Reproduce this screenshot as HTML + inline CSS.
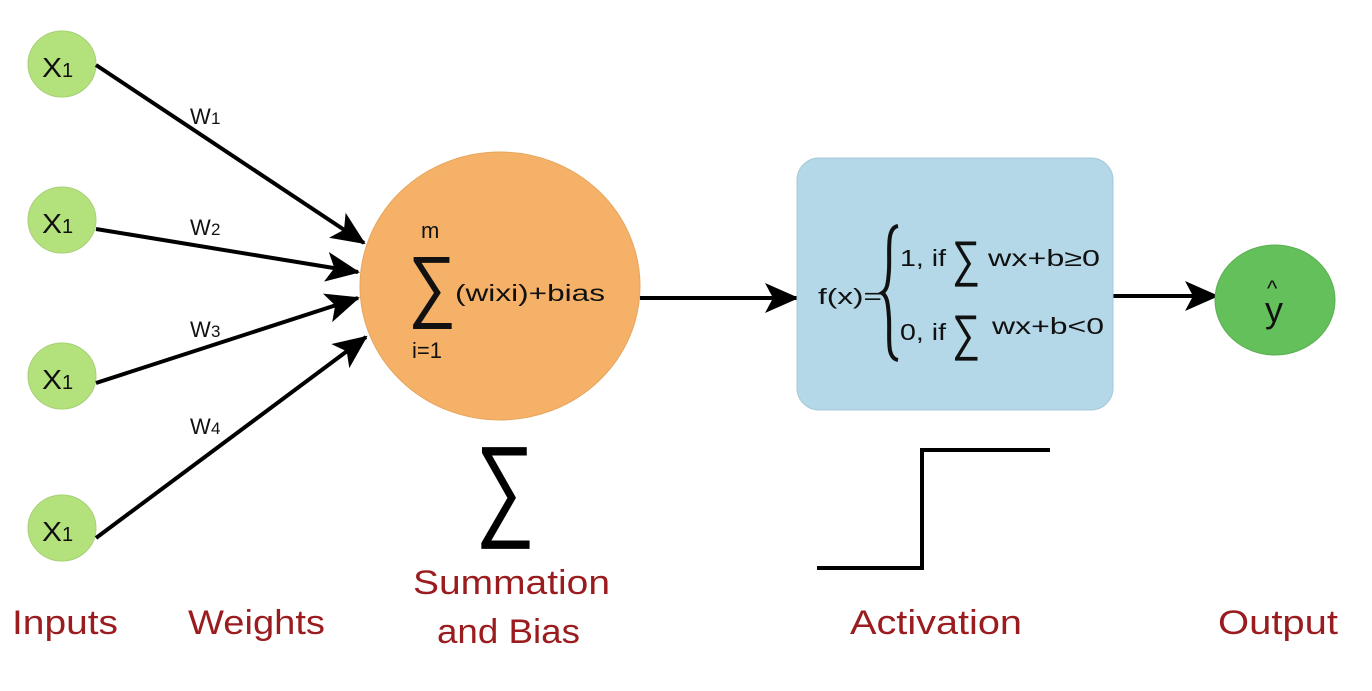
<!DOCTYPE html>
<html><head><meta charset="utf-8"><style>
html,body{margin:0;padding:0;background:#fff;}
svg{display:block;}
text{font-family:"Liberation Sans",sans-serif;}
</style></head><body>
<svg width="1372" height="691" viewBox="0 0 1372 691" xmlns="http://www.w3.org/2000/svg">
<defs>
<marker id="ah" markerWidth="34" markerHeight="30" refX="32" refY="15" orient="auto" markerUnits="userSpaceOnUse">
<path d="M0,0 L34,15 L0,30 L8,15 Z" fill="#000"/>
</marker>
</defs>
<g fill="#b3e27c" stroke="#a8cf78" stroke-width="1">
<ellipse cx="62" cy="64" rx="34" ry="33"/>
<ellipse cx="62" cy="220" rx="34" ry="33"/>
<ellipse cx="62" cy="376" rx="34" ry="33"/>
<ellipse cx="62" cy="528" rx="34" ry="33"/>
</g>
<g font-size="28" fill="#111">
<text x="42" y="77" textLength="20" lengthAdjust="spacingAndGlyphs">X</text><text x="62" y="77" font-size="20">1</text>
<text x="42" y="233" textLength="20" lengthAdjust="spacingAndGlyphs">X</text><text x="62" y="233" font-size="20">1</text>
<text x="42" y="389" textLength="20" lengthAdjust="spacingAndGlyphs">X</text><text x="62" y="389" font-size="20">1</text>
<text x="42" y="541" textLength="20" lengthAdjust="spacingAndGlyphs">X</text><text x="62" y="541" font-size="20">1</text>
</g>
<ellipse cx="500" cy="286" rx="140" ry="134" fill="#f5b167" stroke="#e6a55e" stroke-width="1"/>
<g stroke="#000" stroke-width="4" marker-end="url(#ah)">
<line x1="96" y1="65" x2="364" y2="243"/>
<line x1="96" y1="229" x2="358" y2="272"/>
<line x1="96" y1="383" x2="358" y2="298"/>
<line x1="96" y1="538" x2="366" y2="337"/>
<line x1="640" y1="298" x2="797" y2="298"/>
<line x1="1113" y1="296" x2="1217" y2="296"/>
</g>
<g font-size="22" fill="#111">
<text x="190" y="124">W</text><text x="211" y="124" font-size="17">1</text>
<text x="190" y="235">W</text><text x="211" y="235" font-size="17">2</text>
<text x="190" y="337">W</text><text x="211" y="337" font-size="17">3</text>
<text x="190" y="434">W</text><text x="211" y="434" font-size="17">4</text>
</g>
<text x="421" y="238" font-size="22" fill="#111">m</text>
<text x="408" y="312" font-size="80" fill="#111" textLength="48" lengthAdjust="spacingAndGlyphs">∑</text>
<text x="455" y="301" font-size="23" fill="#111" textLength="150" lengthAdjust="spacingAndGlyphs">(wixi)+bias</text>
<text x="412" y="358" font-size="22" fill="#111">i=1</text>
<rect x="797" y="158" width="316" height="252" rx="22" fill="#b4d8e8" stroke="#a5c9d8" stroke-width="1"/>
<text x="818" y="304" font-size="22" fill="#111" textLength="64" lengthAdjust="spacingAndGlyphs">f(x)=</text>
<path d="M898,226 C886,228 890,250 889,270 C888,285 887,290 882,293 C887,296 888,302 889,318 C890,338 886,358 898,360" fill="none" stroke="#111" stroke-width="4"/>
<text x="900" y="266" font-size="23" fill="#111" textLength="46" lengthAdjust="spacingAndGlyphs">1, if</text>
<text x="952" y="276" font-size="50" fill="#111" textLength="28" lengthAdjust="spacingAndGlyphs">∑</text>
<text x="988" y="266" font-size="23" fill="#111" textLength="112" lengthAdjust="spacingAndGlyphs">wx+b≥0</text>
<text x="900" y="340" font-size="23" fill="#111" textLength="46" lengthAdjust="spacingAndGlyphs">0, if</text>
<text x="952" y="350" font-size="50" fill="#111" textLength="28" lengthAdjust="spacingAndGlyphs">∑</text>
<text x="992" y="334" font-size="23" fill="#111" textLength="112" lengthAdjust="spacingAndGlyphs">wx+b&lt;0</text>
<ellipse cx="1275" cy="300" rx="60" ry="55" fill="#64c05a" stroke="#5aae52" stroke-width="1"/>
<text x="1265" y="322" font-size="36" fill="#111">y</text>
<text x="1267" y="296" font-size="22" fill="#111">^</text>
<text x="475" y="525" font-size="113" fill="#000" textLength="60" lengthAdjust="spacingAndGlyphs">∑</text>
<polyline points="817,568 922,568 922,450 1050,450" fill="none" stroke="#000" stroke-width="4"/>
<g font-size="34" fill="#9b1c1f">
<text x="12" y="634" textLength="106" lengthAdjust="spacingAndGlyphs">Inputs</text>
<text x="188" y="634" textLength="137" lengthAdjust="spacingAndGlyphs">Weights</text>
<text x="413" y="594" textLength="197" lengthAdjust="spacingAndGlyphs">Summation</text>
<text x="437" y="643" textLength="143" lengthAdjust="spacingAndGlyphs">and Bias</text>
<text x="850" y="634" textLength="172" lengthAdjust="spacingAndGlyphs">Activation</text>
<text x="1218" y="634" textLength="120" lengthAdjust="spacingAndGlyphs">Output</text>
</g>
</svg>
</body></html>
